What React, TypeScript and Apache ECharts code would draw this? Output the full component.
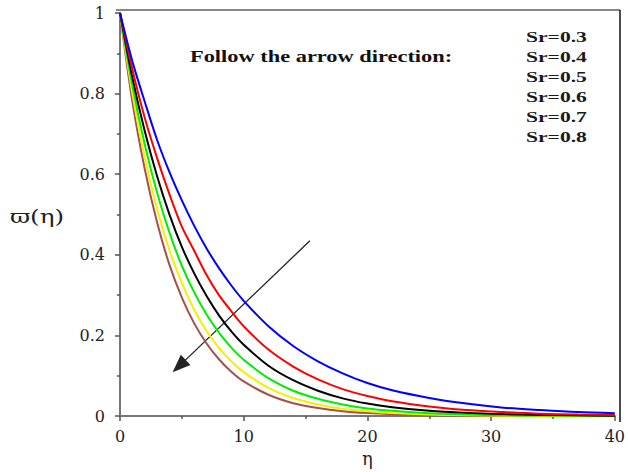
import React, { useEffect, useRef } from "react";
import * as echarts from "echarts";

const etas = [0, 1, 2, 3, 4, 5, 6, 7, 8, 9, 10, 12, 14, 16, 18, 20, 22, 25, 28, 31, 34, 37, 40];

const sr03 = [1, 0.88, 0.78, 0.685, 0.605, 0.535, 0.472, 0.416, 0.367, 0.324, 0.286, 0.223, 0.174, 0.136, 0.106, 0.082, 0.064, 0.045, 0.031, 0.021, 0.015, 0.010, 0.007];
const sr04 = [1, 0.86, 0.74, 0.64, 0.55, 0.47, 0.41, 0.35, 0.30, 0.26, 0.223, 0.165, 0.123, 0.091, 0.067, 0.050, 0.037, 0.024, 0.015, 0.010, 0.006, 0.004, 0.003];
const sr05 = [1, 0.84, 0.707, 0.595, 0.5, 0.42, 0.354, 0.298, 0.25, 0.21, 0.177, 0.125, 0.089, 0.063, 0.044, 0.031, 0.022, 0.013, 0.008, 0.005, 0.003, 0.002, 0.001];
const sr06 = [1, 0.82, 0.674, 0.554, 0.455, 0.373, 0.307, 0.252, 0.207, 0.17, 0.14, 0.094, 0.063, 0.043, 0.029, 0.019, 0.013, 0.007, 0.004, 0.002, 0.0012, 0.0007, 0.0004];
const sr07 = [1, 0.80, 0.641, 0.514, 0.411, 0.33, 0.264, 0.211, 0.169, 0.136, 0.109, 0.07, 0.045, 0.029, 0.018, 0.012, 0.0075, 0.004, 0.002, 0.001, 0.0005, 0.0003, 0.0001];
const sr08 = [1, 0.78, 0.613, 0.48, 0.375, 0.294, 0.23, 0.18, 0.141, 0.11, 0.086, 0.053, 0.032, 0.02, 0.012, 0.0074, 0.0046, 0.0022, 0.001, 0.0005, 0.0002, 0.0001, 0.0001];

const seriesNames = ["Sr=0.3", "Sr=0.4", "Sr=0.5", "Sr=0.6", "Sr=0.7", "Sr=0.8"];
const seriesValues = [sr03, sr04, sr05, sr06, sr07, sr08];
const seriesColors = ["#0000ff", "#ff0000", "#000000", "#00ee00", "#f5ef00", "#a5504c"];

const arrowFrom = [15.35, 0.435];
const arrowTo = [4.78, 0.124];

const annotation = "Follow the arrow direction:";

export default function App() {
  const ref = useRef<HTMLDivElement>(null);
  useEffect(() => {
    document.body.style.margin = "0";
    const chart = echarts.init(ref.current!, null, { renderer: "svg" });
    const lines = seriesValues.map((vals, i) => ({
      name: seriesNames[i],
      type: "line",
      data: etas.map((e, j) => [e, vals[j]]),
      showSymbol: false,
      smooth: 0.3,
      lineStyle: { color: seriesColors[i], width: 2 },
      z: 10 - i,
    }));
    const srTexts = seriesNames.map((n, i) => ({
      type: "text",
      x: 526,
      y: 37 + i * 20,
      scaleX: 1.44,
      style: {
        text: n,
        font: "bold 15px 'Liberation Serif'",
        fill: "#1a1a1a",
        textAlign: "left",
        textVerticalAlign: "middle",
      },
    }));
    chart.setOption({
      animation: false,
      grid: { left: 120, right: 10, top: 13, bottom: 54 },
      xAxis: {
        type: "value",
        min: 0,
        max: 40,
        interval: 10,
        offset: 3,
        name: "η",
        nameLocation: "middle",
        nameGap: 26,
        nameTextStyle: { fontFamily: "DejaVu Serif", fontSize: 18, color: "#222" },
        axisLine: { show: true, lineStyle: { color: "#777", width: 2 } },
        axisTick: { show: true, length: 5, lineStyle: { color: "#555", width: 1.5 } },
        minorTick: { show: true, splitNumber: 2, length: 3, lineStyle: { color: "#555", width: 1.5 } },
        axisLabel: { fontFamily: "DejaVu Serif", fontSize: 16, color: "#222", margin: 9 },
        splitLine: { show: false },
      },
      yAxis: {
        type: "value",
        min: 0,
        max: 1,
        interval: 0.2,
        offset: 3,
        axisLine: { show: true, lineStyle: { color: "#777", width: 2 } },
        axisTick: { show: true, length: 5, lineStyle: { color: "#555", width: 1.5 } },
        minorTick: { show: true, splitNumber: 2, length: 3, lineStyle: { color: "#555", width: 1.5 } },
        axisLabel: {
          fontFamily: "DejaVu Serif",
          fontSize: 16,
          color: "#222",
          margin: 12,
          formatter: (v: number) => (v === 0 || v === 1 ? String(v) : v.toFixed(1)),
        },
        splitLine: { show: false },
      },
      series: [
        ...lines,
        {
          type: "line",
          data: [],
          markLine: {
            silent: true,
            symbol: ["none", "triangle"],
            symbolSize: [14, 18],
            label: { show: false },
            itemStyle: { color: "#000" },
            lineStyle: { color: "#222", width: 1.3, type: "solid" },
            data: [[{ coord: arrowFrom }, { coord: arrowTo }]],
          },
        },
      ],
      graphic: [
        { type: "line", shape: { x1: 116, y1: 10, x2: 620, y2: 10 }, style: { stroke: "#888", lineWidth: 2 } },
        { type: "line", shape: { x1: 620, y1: 10, x2: 620, y2: 422 }, style: { stroke: "#111", lineWidth: 1.5 } },
        {
          type: "text",
          x: 190,
          y: 57,
          scaleX: 1.4,
          style: {
            text: annotation,
            font: "bold 16px 'Liberation Serif'",
            fill: "#111",
            textAlign: "left",
            textVerticalAlign: "middle",
          },
        },
        ...srTexts,
        {
          type: "text",
          x: 37,
          y: 217,
          scaleX: 1.3,
          style: {
            text: "ϖ(η)",
            font: "19px 'DejaVu Serif'",
            fill: "#222",
            textAlign: "center",
            textVerticalAlign: "middle",
          },
        },
      ],
    });
    return () => chart.dispose();
  }, []);
  return <div ref={ref} style={{ width: 628, height: 472 }} />;
}
